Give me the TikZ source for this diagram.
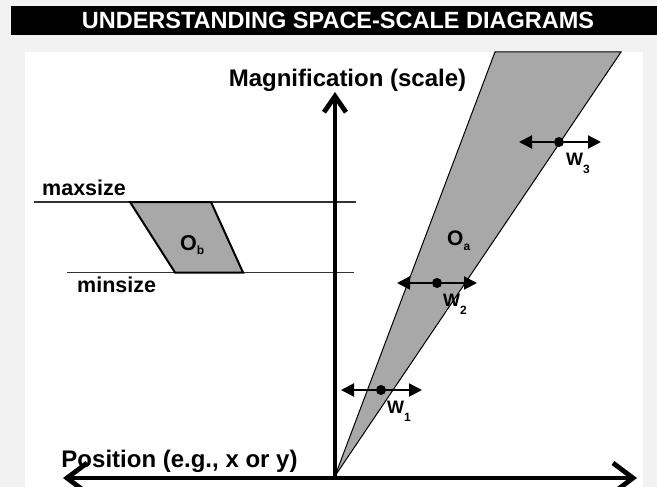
\documentclass[tikz,border=0pt]{standalone}
\usepackage{fontspec}
\setmainfont{Liberation Sans}
\usetikzlibrary{arrows.meta}
\definecolor{PanelGray}{RGB}{242,242,242}
\definecolor{ShapeGray}{RGB}{168,168,168}
\newcommand{\sublow}[2]{\raisebox{-#1}{\fontsize{12}{12}\selectfont #2}}

\begin{document}
\begin{tikzpicture}[x=1pt, y=-1pt, font=\bfseries]
    \tikzset{
        titlebar/.style={fill=black, draw=none},
        titletext/.style={text=white, inner sep=0pt, anchor=base,
            font=\bfseries\fontsize{23.5}{28}\selectfont},
        axislabel/.style={inner sep=0pt, anchor=base,
            font=\bfseries\fontsize{24}{28}\selectfont},
        sizelabel/.style={inner sep=0pt, anchor=base west,
            font=\bfseries\fontsize{21.5}{24}\selectfont},
        objlabel/.style={inner sep=0pt, anchor=base west,
            font=\bfseries\fontsize{21.5}{24}\selectfont},
        wlabel/.style={inner sep=0pt, anchor=base west,
            font=\bfseries\fontsize{18}{20}\selectfont},
        sizeline/.style={draw=black!80, line width=1.2pt},
        objshape/.style={fill=ShapeGray, draw=black, line width=2pt, line join=miter},
        wedge/.style={fill=ShapeGray, draw=black, line width=1pt},
        xaxis/.style={line width=4.8pt,
            {Straight Barb[length=20pt, width=30pt]}-{Straight Barb[length=20pt, width=30pt]}},
        yaxis/.style={line width=4.8pt, -{Straight Barb[length=16pt, width=22pt]}},
        wdot/.style={circle, fill=black, minimum size=10pt, inner sep=0pt},
        warrow/.style={line width=2pt, -{Triangle[length=13pt, width=13pt]}}
    }
    \useasboundingbox[fill=PanelGray] (0,0) rectangle (657,487);
    \fill[white] (25,52) rectangle (643,487);
    \path[titlebar] (11,6) rectangle (657,35);
    \node[titletext] (title) at (338,28.5) {UNDERSTANDING SPACE-SCALE DIAGRAMS};

    \coordinate (apex) at (335,476);
    \coordinate (wl) at (495,52);
    \coordinate (wr) at (621,52);
    \draw[wedge] (apex) -- (wl) -- (wr) -- cycle;
    \node[objlabel, font=\bfseries\fontsize{21}{24}\selectfont] (oa) at (447,245.5) {O\sublow{4.5pt}{a}};

    \coordinate (max1) at (34,202);
    \coordinate (max2) at (356,202);
    \coordinate (min1) at (67,272.5);
    \coordinate (min2) at (354,272.5);
    \draw[sizeline] (max1) -- (max2);
    \draw[sizeline] (min1) -- (min2);
    \node[sizelabel] (maxlab) at (42,196) {maxsize};
    \node[sizelabel] (minlab) at (77,292) {minsize};
    \draw[objshape] (130,202) -- (211,202) -- (243,272.5) -- (175,272.5) -- cycle;
    \node[objlabel] (ob) at (180,250.5) {O\sublow{4pt}{b}};

    \coordinate (origin) at (335,479);
    \coordinate (xleft) at (63,478);
    \coordinate (xright) at (637,478);
    \coordinate (ytip) at (335,92);
    \draw[yaxis] (origin) -- (ytip);
    \draw[xaxis] (xleft) -- (xright);
    \node[axislabel] (maglab) at (347.5,87) {Magnification (scale)};
    \node[axislabel] (poslab) at (179.5,467) {Position (e.g., x or y)};

    \node[wdot] (d1) at (381,390) {};
    \coordinate (w1l) at (341,390);
    \coordinate (w1r) at (422,390);
    \draw[warrow] (d1) -- (w1l);
    \draw[warrow] (d1) -- (w1r);
    \node[wlabel] (w1) at (387,413.5) {W\sublow{8pt}{1}};

    \node[wdot] (d2) at (437,283) {};
    \coordinate (w2l) at (397,283);
    \coordinate (w2r) at (477,283);
    \draw[warrow] (d2) -- (w2l);
    \draw[warrow] (d2) -- (w2r);
    \node[wlabel] (w2) at (443,306.5) {W\sublow{8pt}{2}};

    \node[wdot] (d3) at (559,142) {};
    \coordinate (w3l) at (519,142);
    \coordinate (w3r) at (601,142);
    \draw[warrow] (d3) -- (w3l);
    \draw[warrow] (d3) -- (w3r);
    \node[wlabel] (w3) at (566,165.5) {W\sublow{8pt}{3}};
\end{tikzpicture}
\end{document}
